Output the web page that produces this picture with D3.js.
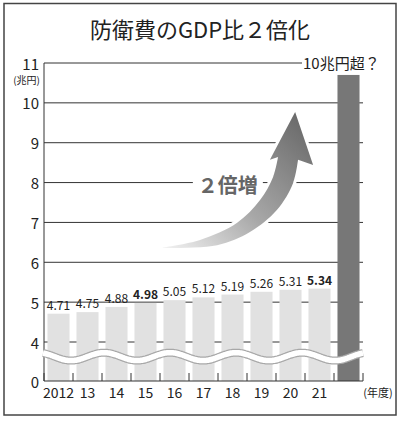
<!DOCTYPE html>
<html><head><meta charset="utf-8">
<script src="https://cdn.jsdelivr.net/npm/d3@7"></script>
<style>
html,body{margin:0;padding:0;background:#fff;}
text{font-family:"Noto Sans CJK JP","Noto Sans",sans-serif;}
</style></head>
<body><svg id="c" width="400" height="421"></svg>
<script>
// ---- data ----
const title = "防衛費のGDP比２倍化";
const years = ["2012","13","14","15","16","17","18","19","20","21",""];
const values = [4.71, 4.75, 4.88, 4.98, 5.05, 5.12, 5.19, 5.26, 5.31, 5.34];
const boldLabels = ["4.98","5.34"];
const futureValue = 10.7;
const futureLabel = "10兆円超？";
const yTicks = [0, 4, 5, 6, 7, 8, 9, 10, 11];
const gridTicks = [4, 5, 6, 7, 8, 9, 10];
const yUnit = "(兆円)";
const xUnit = "(年度)";
const arrowLabel = "２倍増";
// arrow outline in data space: [band position, value]
const arrowUpper = [[4.10,6.37],[5.38,6.56],[6.66,6.99],[7.45,7.56],[7.90,8.14],[8.07,8.64]];
const arrowHead = [[7.79,8.57],[8.66,9.77],[9.28,8.44]];
const arrowLower = [[8.76,8.57],[8.59,7.99],[8.03,7.31],[7.10,6.76],[5.97,6.43],[4.10,6.36]];
const arrowText = [6.34, 7.95];
const breakValue = 2.5;

// ---- layout ----
const svg = d3.select("#c");
const X0 = 44, X1 = 363;
const x = d3.scaleBand().domain(years.map((d,i)=>i)).range([X0, X1]).paddingInner(0.24).paddingOuter(0.12);
const xpos = d3.scaleLinear().domain([0, years.length]).range([X0, X1]);
const y = d3.scaleLinear().domain([0, 4, 11]).range([381, 342, 63]);

// frame
svg.append("rect").attr("x",4).attr("y",3.5).attr("width",392).attr("height",411.5)
  .attr("fill","none").attr("stroke","#444").attr("stroke-width",1.5);

// title
svg.append("text").attr("x",200).attr("y",38).attr("text-anchor","middle")
  .attr("font-size",22).attr("font-weight",400).attr("fill","#222").text(title);

// gridlines
svg.append("g").selectAll("line").data(gridTicks).join("line")
  .attr("x1",X0).attr("x2",X1).attr("y1",d=>y(d)).attr("y2",d=>y(d))
  .attr("stroke","#333").attr("stroke-width",1);
svg.append("line").attr("x1",X0).attr("x2",302).attr("y1",y(11)).attr("y2",y(11))
  .attr("stroke","#333").attr("stroke-width",1);
svg.append("text").attr("x",303).attr("y",y(11)-1).attr("dominant-baseline","central")
  .attr("font-size",15).attr("fill","#222").text(futureLabel);

// bars
svg.append("g").selectAll("rect").data(values).join("rect")
  .attr("x",(d,i)=>x(i)).attr("width",x.bandwidth())
  .attr("y",d=>y(d)).attr("height",d=>y(0)-y(d)).attr("fill","#e1e1e1");
svg.append("rect").attr("x",x(years.length-1)).attr("width",x.bandwidth())
  .attr("y",y(futureValue)).attr("height",y(0)-y(futureValue)).attr("fill","#777");

// value labels
svg.append("g").selectAll("text").data(values).join("text")
  .attr("x",(d,i)=>x(i)+x.bandwidth()/2).attr("y",d=>y(d)-4)
  .attr("text-anchor","middle").attr("font-size",12).attr("fill","#222")
  .attr("font-weight",d=>boldLabels.includes(d.toFixed(2))?700:400)
  .text(d=>d.toFixed(2));

// arrow
const defs = svg.append("defs");
const g = defs.append("linearGradient").attr("id","ag").attr("gradientUnits","userSpaceOnUse")
  .attr("x1",xpos(arrowUpper[0][0])).attr("y1",y(arrowUpper[0][1]))
  .attr("x2",xpos(arrowHead[1][0])).attr("y2",y(arrowHead[1][1]));
g.append("stop").attr("offset",0).attr("stop-color","#f2f2f2");
g.append("stop").attr("offset",0.45).attr("stop-color","#a8a8a8");
g.append("stop").attr("offset",1).attr("stop-color","#6a6a6a");
const pt = d=>[xpos(d[0]), y(d[1])];
const curve = d3.line().curve(d3.curveCatmullRom.alpha(0.5));
const up = curve(arrowUpper.map(pt));
const lo = curve(arrowLower.map(pt)).replace(/^M/,"L");
const head = arrowHead.map(pt).map(p=>"L"+p[0]+","+p[1]).join("");
const arrowPath = up + head + lo + "Z";
svg.append("path").attr("d",arrowPath).attr("fill","#fff").attr("stroke","#fff")
  .attr("stroke-width",6).attr("stroke-linejoin","round");
svg.append("path").attr("d",arrowPath).attr("fill","url(#ag)");

// arrow text with white background
const at = svg.append("text").attr("x",xpos(arrowText[0])).attr("y",y(arrowText[1]))
  .attr("text-anchor","middle").attr("dominant-baseline","central")
  .attr("font-size",20).attr("font-weight",700).attr("fill","#666").text(arrowLabel);
const bb = at.node().getBBox();
svg.insert("rect", () => at.node()).attr("x",bb.x-5).attr("y",bb.y+4).attr("width",bb.width+10)
  .attr("height",bb.height-8).attr("fill","#fff");

// axes
svg.append("line").attr("x1",X0).attr("x2",X0).attr("y1",y(11)).attr("y2",y(0))
  .attr("stroke","#333").attr("stroke-width",1);
svg.append("line").attr("x1",X0).attr("x2",X1).attr("y1",y(0)).attr("y2",y(0))
  .attr("stroke","#333").attr("stroke-width",1);
const bounds = d3.range(years.length+1).map(i=>xpos(i));
svg.append("g").selectAll("line").data(bounds).join("line")
  .attr("x1",d=>d).attr("x2",d=>d).attr("y1",y(0)-8).attr("y2",y(0))
  .attr("stroke","#333").attr("stroke-width",1);

// axis break wave
const wy = y(breakValue);
const wavePts = d3.range(X0-1, X1+0.5, 1).map(px=>[px, wy + 4*Math.sin(2*Math.PI*(px-120.5)/66)]);
const wl = d3.line().curve(d3.curveBasis)(wavePts);
svg.append("path").attr("d",wl).attr("fill","none").attr("stroke","#a8a8a8").attr("stroke-width",8);
svg.append("path").attr("d",wl).attr("fill","none").attr("stroke","#fff").attr("stroke-width",5.5);

// y labels
svg.append("g").selectAll("text").data(yTicks).join("text")
  .attr("x",39).attr("y",d=>y(d)).attr("text-anchor","end").attr("dominant-baseline","central")
  .attr("font-size",15).attr("fill","#222").text(d=>d);
svg.append("text").attr("x",40).attr("y",79).attr("text-anchor","end").attr("dominant-baseline","central")
  .attr("font-size",10).attr("fill","#222").text(yUnit);

// x labels
svg.append("g").selectAll("text").data(years).join("text")
  .attr("x",(d,i)=>x(i)+x.bandwidth()/2).attr("y",398).attr("text-anchor","middle")
  .attr("font-size",14).attr("fill","#222").text(d=>d);
svg.append("text").attr("x",378).attr("y",397).attr("text-anchor","middle")
  .attr("font-size",11).attr("fill","#222").text(xUnit);
</script></body></html>
